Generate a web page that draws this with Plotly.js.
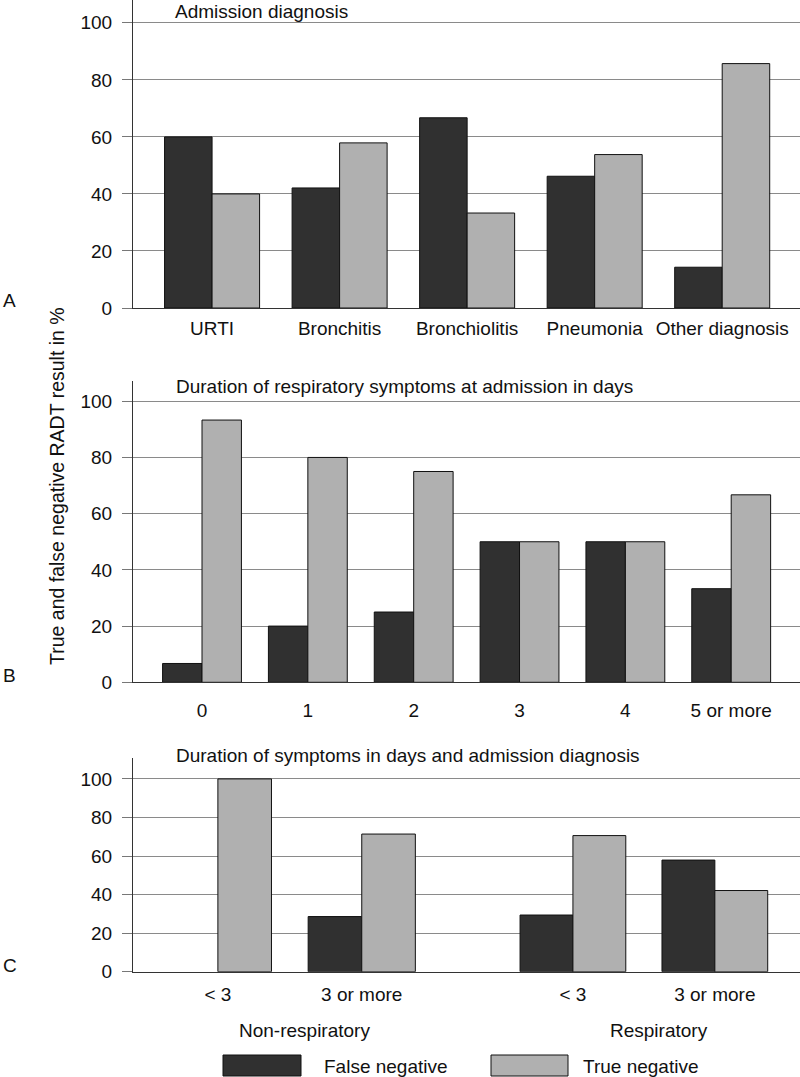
<!DOCTYPE html>
<html>
<head>
<meta charset="utf-8">
<script src="https://cdn.plot.ly/plotly-3.0.1.min.js"></script>
<style>html,body{margin:0;padding:0;background:#fff;}#chart{width:800px;height:1077px;}</style>
</head>
<body>
<div id="chart"></div>
<script>
// ---- data ----
const catsA = ['URTI', 'Bronchitis', 'Bronchiolitis', 'Pneumonia', 'Other diagnosis'];
const falseNegA = [60, 42.1, 66.7, 46.2, 14.3];
const trueNegA = [40, 57.9, 33.3, 53.8, 85.7];

const catsB = ['0', '1', '2', '3', '4', '5 or more'];
const falseNegB = [6.7, 20, 25, 50, 50, 33.3];
const trueNegB = [93.3, 80, 75, 50, 50, 66.7];

const catsC = ['< 3', '3 or more'];
const falseNegNonResp = [0, 28.6];
const trueNegNonResp = [100, 71.4];
const falseNegResp = [29.4, 57.9];
const trueNegResp = [70.6, 42.1];

const seriesNames = ['False negative', 'True negative'];
const panelTitles = ['Admission diagnosis', 'Duration of respiratory symptoms at admission in days', 'Duration of symptoms in days and admission diagnosis'];
const groupNamesC = ['Non-respiratory', 'Respiratory'];
const yTitle = 'True and false negative RADT result in %';
const yTicks = [0, 20, 40, 60, 80, 100];

// ---- styling ----
const W = 800, H = 1077;
const DARK = '#303030', LIGHT = '#b0b0b0';
const FONT = 'Liberation Sans, Arial, Helvetica, sans-serif';
const FS = 19;
const px = x => x / W;
const py = y => 1 - y / H;

function bar(x, y, name, color, xa, ya) {
  return {type: 'bar', x: x, y: y, name: name, xaxis: xa, yaxis: ya,
    marker: {color: color, line: {color: '#111', width: y.map(v => (v === 0 ? 0 : 1))}},
    showlegend: false, hoverinfo: 'x+y'};
}

const data = [
  bar(catsA, falseNegA, seriesNames[0], DARK, 'x', 'y'),
  bar(catsA, trueNegA, seriesNames[1], LIGHT, 'x', 'y'),
  bar(catsB, falseNegB, seriesNames[0], DARK, 'x2', 'y2'),
  bar(catsB, trueNegB, seriesNames[1], LIGHT, 'x2', 'y2'),
  bar(catsC, falseNegNonResp, seriesNames[0], DARK, 'x3', 'y3'),
  bar(catsC, trueNegNonResp, seriesNames[1], LIGHT, 'x3', 'y3'),
  bar(catsC, falseNegResp, seriesNames[0], DARK, 'x4', 'y3'),
  bar(catsC, trueNegResp, seriesNames[1], LIGHT, 'x4', 'y3')
];

function xax(domain, range, anchor, standoff) {
  return {type: 'category', domain: domain, range: range, anchor: anchor,
    showline: true, linecolor: '#333', linewidth: 1, ticks: '', showgrid: false,
    ticklabelstandoff: standoff, tickfont: {size: FS, color: '#111', family: FONT}, fixedrange: true};
}
function yax(domain, range, anchor) {
  return {domain: domain, range: range, anchor: anchor, tickmode: 'array', tickvals: yTicks,
    showline: true, linecolor: '#333', linewidth: 1, ticks: 'outside', ticklen: 10, tickcolor: '#777',
    showgrid: true, gridcolor: '#8a8a8a', gridwidth: 1, zeroline: false,
    ticklabelstandoff: 6, tickfont: {size: FS, color: '#111', family: FONT}, fixedrange: true};
}

const xL = px(133), xSplit = px(497);
const annotations = [];
function ann(text, x, y, xanchor, size, extra) {
  annotations.push(Object.assign({text: text, x: x, y: y, xref: 'paper', yref: 'paper',
    xanchor: xanchor, yanchor: 'middle', showarrow: false, font: {size: size, color: '#111', family: FONT}}, extra || {}));
}
ann(panelTitles[0], px(174), 1, 'left', FS, {yanchor: 'top', borderpad: 0});
ann(panelTitles[1], px(174), py(386), 'left', FS);
ann(panelTitles[2], px(174), py(755), 'left', FS);
ann('A', px(1), py(301), 'left', 19);
ann('B', px(1), py(675), 'left', 19);
ann('C', px(1), py(965), 'left', 19);
ann(yTitle, px(57), py(486), 'center', 19.5, {textangle: -90});
ann(groupNamesC[0], px(304), py(1030), 'center', FS);
ann(groupNamesC[1], px(659), py(1030), 'center', FS);
ann(seriesNames[0], px(322), py(1066), 'left', FS);
ann(seriesNames[1], px(581), py(1066), 'left', FS);

const shapes = [
  {type: 'rect', xref: 'paper', yref: 'paper', x0: px(223), x1: px(301), y0: py(1076), y1: py(1055), fillcolor: DARK, line: {color: '#111', width: 1}},
  {type: 'rect', xref: 'paper', yref: 'paper', x0: px(491), x1: px(568), y0: py(1076), y1: py(1055), fillcolor: LIGHT, line: {color: '#111', width: 1}}
];

const layout = {
  width: W, height: H, margin: {l: 0, r: 0, t: 0, b: 0},
  paper_bgcolor: '#fff', plot_bgcolor: '#fff',
  barmode: 'group', bargap: 0.255, bargroupgap: 0,
  showlegend: false,
  font: {family: FONT, size: FS, color: '#111'},
  xaxis: xax([xL, 1], [-0.62, 4.61], 'y', 3),
  yaxis: yax([py(308), 1], [0, 108], 'x'),
  xaxis2: xax([xL, 1], [-0.652, 5.65], 'y2', 11),
  yaxis2: yax([py(682.3), py(380.7)], [0, 107.3], 'x2'),
  xaxis3: xax([xL, xSplit], [-0.59, 1.94], 'y3', 5),
  xaxis4: xax([xSplit, 1], [-0.535, 1.6], 'y3', 5),
  yaxis3: yax([py(971.7), py(757.7)], [0, 111], 'x3'),
  annotations: annotations,
  shapes: shapes
};

Plotly.newPlot('chart', data, layout, {displayModeBar: false, staticPlot: true});
</script>
</body>
</html>
